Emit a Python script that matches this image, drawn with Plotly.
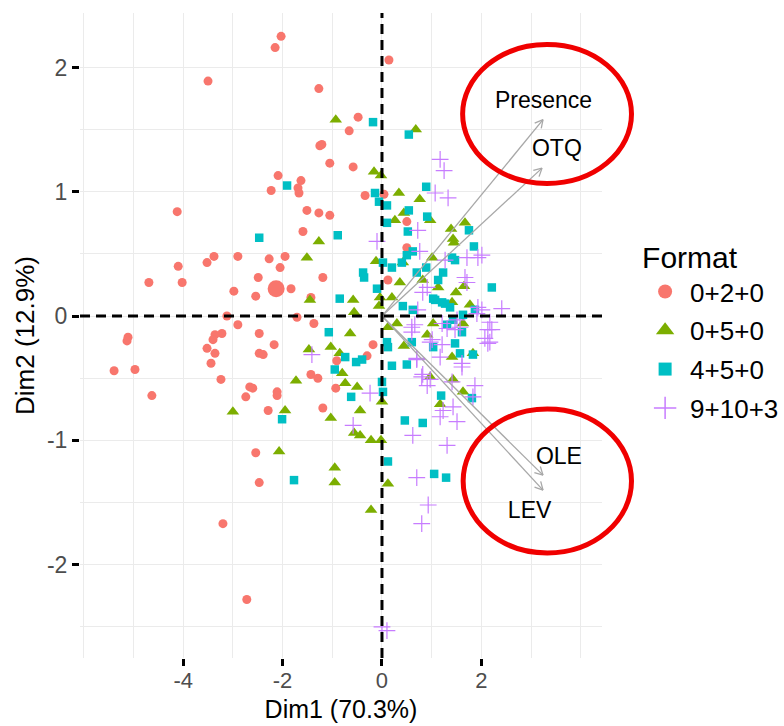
import math
import plotly.graph_objects as go

# ---------------- data ----------------
groups = ["0+2+0", "0+5+0", "4+5+0", "9+10+3"]

g1_x = [-2.03, -2.15, 0.14, -3.50, -1.27, -0.48, -0.66, -1.25, -1.21, -1.05, -0.58, -2.09, -1.63, -2.23,
        -1.69, -1.67, -0.34, 0.04, -1.51, -1.27, -1.05, -4.12, -3.38, -3.52, -2.90, -4.10, -4.69, -4.02,
        -2.98, -2.49, -2.54, -3.12, -2.90, -2.47, -3.22, -3.36, -3.40, -5.11, -5.13, -3.52, -3.36, -3.44,
        -4.97, -5.39, -3.24, -2.66, -2.74, -4.63, -2.47, -1.59, -2.27, -1.95, -2.05, -1.19, -1.83, -1.43,
        -1.71, -1.37, -2.17, -2.39, -0.18, -0.30, -0.91, -1.43, -1.29, 0.12, -2.60, -2.11, -2.11, -0.93,
        -2.29, -1.19, -2.54, -2.47, -3.20, -2.72, 0.50, 0.50]
g1_y = [2.25, 2.16, 2.06, 1.89, 1.83, 1.60, 1.49, 1.37, 1.38, 1.23, 1.20, 1.13, 1.09, 1.01,
        1.03, 0.99, 0.97, 0.98, 0.85, 0.83, 0.81, 0.84, 0.48, 0.43, 0.48, 0.40, 0.27, 0.27,
        0.20, 0.31, 0.16, 0.00, -0.07, -0.14, -0.14, -0.15, -0.19, -0.17, -0.20, -0.26, -0.30, -0.38,
        -0.43, -0.44, -0.51, -0.57, -0.65, -0.64, -0.30, 0.68, 0.46, 0.48, 0.39, 0.31, 0.22, 0.15,
        -0.01, -0.06, -0.23, -0.31, -0.23, -0.32, -0.36, -0.47, -0.50, 0.29, -0.58, -0.61, -0.64, -0.58,
        -0.76, -0.74, -1.10, -1.34, -1.67, -2.28, 0.76, 0.55]

g2_x = [-0.93, 0.68, -0.16, -0.02, 0.34, 0.76, 0.44, 0.26, 0.97, -1.27, -1.51, -0.12, 1.01, 0.36, 0.20,
        1.13, -1.45, -0.58, -0.56, -0.06, -0.04, 0.82, 0.30, -0.64, 0.91, -1.47, -1.03, 0.44, -0.85, -0.80,
        -1.73, -0.74, -0.50, 0.00, -1.95, -0.44, 0.97, 1.17, -1.03, -3.00, -2.07, -0.56, -0.44, -0.22, -0.02,
        -0.95, -0.95, 0.12, -0.22, 1.39, 1.67, 1.43, 1.45, 0.42, 1.49, 1.65, 1.77, 1.41, 0.12, 1.03, 1.63,
        1.41, 1.83, 1.43, 1.63]
g2_y = [1.58, 1.50, 1.16, 1.13, 0.99, 0.94, 0.83, 0.77, 0.77, 0.60, 0.47, 0.44, 0.47, 0.27, 0.15,
        0.23, 0.13, 0.13, 0.03, 0.08, 0.15, 0.29, -0.06, -0.14, -0.15, -0.27, -0.25, -0.24, -0.30, -0.46,
        -0.52, -0.54, -0.57, -0.69, -0.76, -0.76, -0.49, -0.71, -0.82, -0.77, -1.09, -0.94, -0.96, -1.00, -1.00,
        -1.22, -1.34, -1.35, -1.56, 0.70, 0.75, 0.62, 0.59, 0.43, 0.19, 0.24, 0.09, 0.11, -0.09, -0.06, -0.06,
        -0.33, -0.30, -0.51, -0.61]

g3_x = [-0.18, 0.54, -1.91, -0.14, -0.06, 0.10, 0.89, 0.54, 0.91, 0.10, 0.52, -0.89, -2.47, 0.62, 0.50,
        0.40, 0.02, 0.20, -0.38, -0.36, 0.70, -0.10, -0.85, 1.03, 1.21, 0.42, 0.62, -1.07, 0.10, 0.12,
        1.03, -0.74, -0.52, -0.40, -0.95, 0.20, 0.50, 0.00, 0.02, -0.62, 1.19, -2.01, 0.46, 0.82, 0.12,
        1.05, 1.29, -1.77, 1.75, 1.85, 1.41, 1.47, 0.89, 1.23, 1.13, 2.21, 1.07, 1.27, 1.37, 1.87, 1.63,
        1.43, 1.31, 1.61, 0.60, 1.47, 1.57, 1.83, 1.81]
g3_y = [1.56, 1.46, 1.05, 0.99, 0.92, 0.89, 1.04, 0.85, 0.80, 0.75, 0.68, 0.65, 0.63, 0.52, 0.49,
        0.43, 0.43, 0.39, 0.35, 0.31, 0.35, 0.22, 0.14, 0.14, 0.11, 0.08, 0.05, -0.13, -0.21, -0.25,
        -0.25, -0.33, -0.37, -0.35, -0.43, -0.40, -0.39, -0.53, -0.61, -0.65, -0.64, -0.83, -0.84, -0.86, -1.17,
        -1.27, -1.30, -1.32, 0.69, 0.56, 0.47, 0.45, 0.39, 0.35, 0.29, 0.23, 0.13, 0.10, 0.07, 0.05, 0.01,
        -0.03, -0.07, -0.13, -0.21, -0.22, -0.30, -0.31, -0.66]

g4_x = [1.17, 1.25, 1.07, 1.33, 0.72, -0.10, 1.71, 1.93, 2.01, 0.82, 1.67, 1.93, 2.01, 2.41, 1.21,
        1.31, 0.66, 0.60, 1.47, 2.17, 2.21, 2.07, 2.17, 0.97, 1.17, 0.70, 1.61, 0.80, 0.91, 1.87,
        1.43, 1.51, 1.23, 0.62, 1.31, 1.71, 1.91, 1.51, 1.57, 1.61, 1.41, 1.83, 1.17, -0.58, 0.70,
        0.93, 0.80, 0.00, 0.10, 0.76, 1.27, 0.91, 0.72, 0.60, 1.01, 1.21, -1.41, 0.70, 0.82, 0.97,
        -0.24, 2.13, 2.13]
g4_y = [1.26, 1.17, 0.99, 0.95, 0.69, 0.60, 0.47, 0.47, 0.49, 0.19, 0.31, 0.07, 0.05, 0.06, -0.06,
        -0.10, -0.07, -0.13, -0.11, -0.05, -0.11, -0.18, -0.21, -0.21, -0.33, -0.35, -0.41, -0.49, -0.56, -0.56,
        -0.73, -0.85, -0.76, -0.96, -1.04, 0.27, 0.02, -0.03, -0.09, -0.38, -0.53, -0.65, -0.81, -0.88, -1.30,
        -1.52, -1.67, -2.50, -2.53, 0.52, 0.45, 0.23, 0.05, -0.09, -0.19, -0.23, -0.31, -0.34, -0.47, -0.51,
        -0.62, -0.11, -0.22]

mean_x = [-2.13]
mean_y = [0.22]

var_names = ["Presence", "OTQ", "OLE", "LEV"]
var_x = [3.24, 3.22, 3.24, 3.24]
var_y = [1.58, 1.19, -1.28, -1.40]
label_dx = [0.01, 0.30, 0.32, -0.27]
label_dy = [0.14, 0.145, 0.14, -0.18]

x_label = "Dim1 (70.3%)"
y_label = "Dim2 (12.9%)"
x_ticks = [-4, -2, 0, 2]
y_ticks = [-2, -1, 0, 1, 2]

# ---------------- style / layout ----------------
W, H = 784, 726
ML, MR, MT, MB = 80, 182, 13, 68
PW, PH = W - ML - MR, H - MT - MB
XR = [-6.076, 4.427]
YR = [-2.751, 2.438]
sx = PW / (XR[1] - XR[0])
sy = PH / (YR[1] - YR[0])

colors = ["#F8766D", "#7CAE00", "#00BFC4", "#C77CFF"]
symbols = ["circle", "triangle-up", "square", "cross-thin"]
sizes = [9, 11, 8.5, 12]
leg_sizes = [14, 17, 13, 19]

fig = go.Figure()

data = [(g1_x, g1_y), (g2_x, g2_y), (g3_x, g3_y), (g4_x, g4_y)]
for i, (xs, ys) in enumerate(data):
    mk = dict(symbol=symbols[i], size=sizes[i], color=colors[i])
    if symbols[i] == "cross-thin":
        mk["line"] = dict(color=colors[i], width=1.2)
    else:
        mk["line"] = dict(width=0)
    fig.add_trace(go.Scatter(x=xs, y=ys, mode="markers", marker=mk, showlegend=False,
                             hoverinfo="skip"))

# group mean (large point)
fig.add_trace(go.Scatter(x=mean_x, y=mean_y, mode="markers",
                         marker=dict(symbol="circle", size=17, color=colors[0], line=dict(width=0)),
                         showlegend=False, hoverinfo="skip"))

# variable arrows
ax_, ay_ = [], []
hx, hy = [], []
L = 9.0
ang = math.radians(28)
for vx, vy in zip(var_x, var_y):
    ax_ += [0, vx, None]
    ay_ += [0, vy, None]
    px, py = vx * sx, vy * sy
    n = math.hypot(px, py)
    ux, uy = px / n, py / n
    for s in (1, -1):
        rx = ux * math.cos(s * ang) - uy * math.sin(s * ang)
        ry = ux * math.sin(s * ang) + uy * math.cos(s * ang)
        hx += [vx - L * rx / sx, vx, None]
        hy += [vy - L * ry / sy, vy, None]
fig.add_trace(go.Scatter(x=ax_, y=ay_, mode="lines", line=dict(color="#A8A8A8", width=1.3),
                         showlegend=False, hoverinfo="skip"))
fig.add_trace(go.Scatter(x=hx, y=hy, mode="lines", line=dict(color="#A8A8A8", width=1.3),
                         showlegend=False, hoverinfo="skip"))
fig.add_trace(go.Scatter(x=[v + d for v, d in zip(var_x, label_dx)],
                         y=[v + d for v, d in zip(var_y, label_dy)],
                         mode="text", text=var_names,
                         textfont=dict(size=23, color="black", family="Liberation Sans"),
                         showlegend=False, hoverinfo="skip"))

# legend entries
for i, g in enumerate(groups):
    mk = dict(symbol=symbols[i], size=leg_sizes[i], color=colors[i])
    if symbols[i] == "cross-thin":
        mk["line"] = dict(color=colors[i], width=1.5)
    else:
        mk["line"] = dict(width=0)
    fig.add_trace(go.Scatter(x=[None], y=[None], mode="markers", marker=mk, name=g,
                             legendgroup=g, showlegend=True))

shapes = [
    dict(type="line", xref="paper", yref="y", x0=0, x1=1, y0=0, y1=0,
         line=dict(color="black", width=3, dash="10px,6px"), layer="above"),
    dict(type="line", xref="x", yref="paper", x0=0, x1=0, y0=0, y1=1,
         line=dict(color="black", width=3, dash="10px,6px"), layer="above"),
    # red hand-drawn ellipses
    dict(type="circle", xref="paper", yref="paper", x0=0.733, x1=1.0565, y0=0.7357, y1=0.951,
         line=dict(color="#F00000", width=5), layer="above"),
    dict(type="circle", xref="paper", yref="paper", x0=0.734, x1=1.0565, y0=0.1628, y1=0.386,
         line=dict(color="#F00000", width=5), layer="above"),
]

grid = "#EBEBEB"
fig.update_layout(
    width=W, height=H,
    margin=dict(l=ML, r=MR, t=MT, b=MB, autoexpand=False),
    paper_bgcolor="white", plot_bgcolor="white",
    font=dict(family="Liberation Sans", color="black"),
    shapes=shapes,
    legend=dict(x=1.073, y=0.665, xanchor="left", yanchor="top",
                title=dict(text="Format", font=dict(size=30)),
                font=dict(size=26), tracegroupgap=2, itemwidth=40,
                bgcolor="rgba(0,0,0,0)"),
    xaxis=dict(range=XR, tickvals=x_ticks, ticktext=[str(v) for v in x_ticks],
               showgrid=True, gridcolor=grid, gridwidth=1, zeroline=False, showline=False,
               ticks="outside", ticklen=7, tickwidth=2.5, tickcolor="black",
               tickfont=dict(size=22, color="#4D4D4D"), ticklabelstandoff=-4,
               minor=dict(dtick=1, tick0=0, showgrid=True, gridcolor=grid, gridwidth=1, ticks=""),
               title=dict(text=x_label, font=dict(size=25, color="black"), standoff=8)),
    yaxis=dict(range=YR, tickvals=y_ticks, ticktext=[str(v) for v in y_ticks],
               showgrid=True, gridcolor=grid, gridwidth=1, zeroline=False, showline=False,
               ticks="outside", ticklen=7, tickwidth=2.5, tickcolor="black",
               tickfont=dict(size=23, color="#4D4D4D"),
               minor=dict(dtick=0.5, tick0=0, showgrid=True, gridcolor=grid, gridwidth=1, ticks=""),
               title=dict(text=y_label, font=dict(size=26, color="black"), standoff=4)),
)

fig.write_html("out.html")
